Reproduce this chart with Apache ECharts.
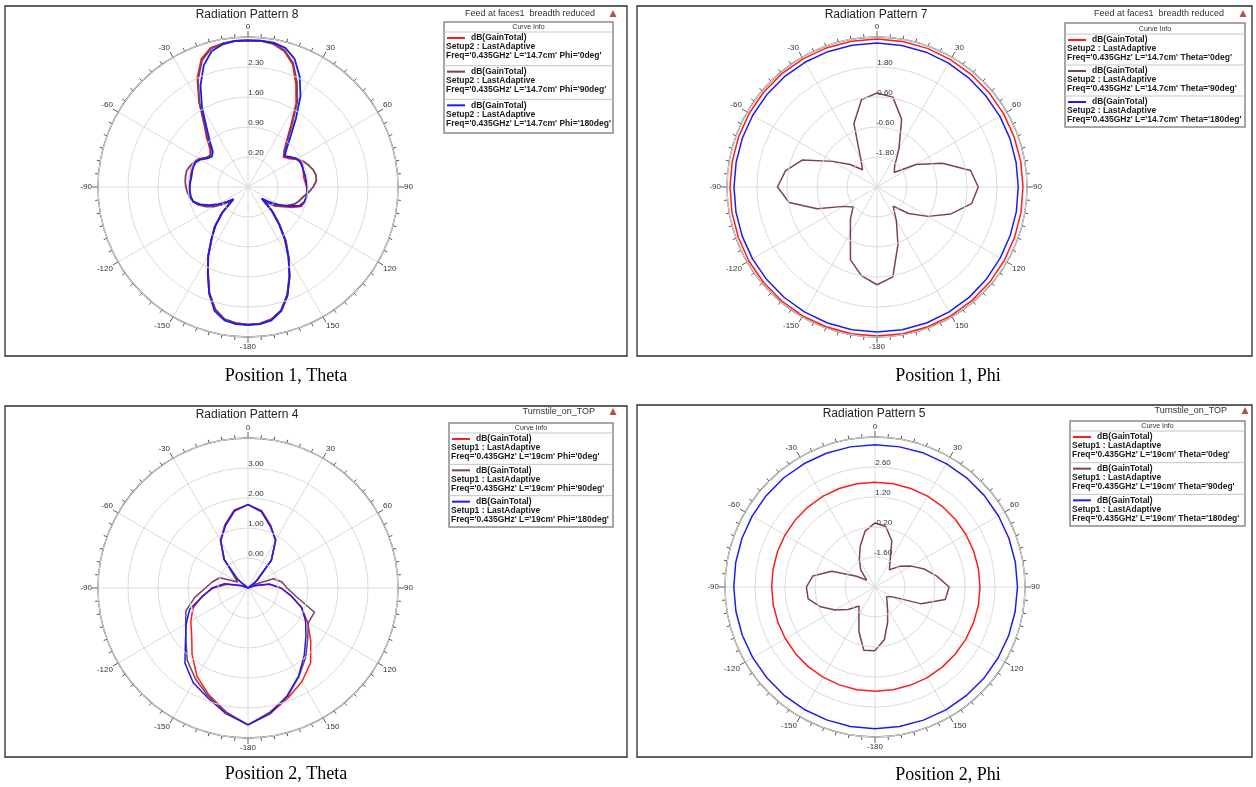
<!DOCTYPE html>
<html>
<head>
<meta charset="utf-8">
<title>Radiation Patterns</title>
<script src="https://cdn.jsdelivr.net/npm/echarts@6/dist/echarts.min.js"></script>
<style>
    html, body { margin: 0; padding: 0; background: #fff; }
    #main { width: 1256px; height: 787px; }
</style>
</head>
<body>
<div id="main"></div>
<script>
// angles (deg), 0 at top, clockwise
let angles5 = [-180, -175, -170, -165, -160, -155, -150, -145, -140, -135, -130, -125, -120, -115, -110, -105, -100, -95, -90, -85, -80, -75, -70, -65, -60, -55, -50, -45, -40, -35, -30, -25, -20, -15, -10, -5,
    0, 5, 10, 15, 20, 25, 30, 35, 40, 45, 50, 55, 60, 65, 70, 75, 80, 85, 90, 95, 100, 105, 110, 115, 120, 125, 130, 135, 140, 145, 150, 155, 160, 165, 170, 175, 180]
let angles10 = [-180, -170, -160, -150, -140, -130, -120, -110, -100, -90, -80, -70, -60, -50, -40, -30, -20, -10,
    0, 10, 20, 30, 40, 50, 60, 70, 80, 90, 100, 110, 120, 130, 140, 150, 160, 170, 180]

// Position 1, Theta (dB)
let p1thPhi0 = [2.71, 2.69, 2.64, 2.45, 2.13, 1.70, 1.36, 0.98, 0.72, 0.37, -0.05, 0.12, 0.38, 0.55, 0.72, 0.82, 0.86, 0.87, 0.87, 0.86, 0.86, 0.88, 0.90, 0.88, 0.82, 0.68, 0.65, 0.75, 1.00, 1.28, 1.78, 2.30, 2.68, 2.86, 2.90, 2.92,
    2.92, 2.92, 2.89, 2.78, 2.55, 2.15, 1.75, 1.25, 0.90, 0.70, 0.58, 0.66, 0.80, 0.88, 0.86, 0.84, 0.82, 0.84, 0.87, 0.88, 0.88, 0.86, 0.82, 0.62, 0.40, 0.20, -0.08, 0.30, 0.65, 1.05, 1.40, 1.80, 2.18, 2.48, 2.63, 2.70, 2.71]
let p1thPhi90 = [2.71, 2.69, 2.63, 2.46, 2.14, 1.72, 1.36, 1.00, 0.70, 0.36, 0.00, 0.20, 0.42, 0.58, 0.72, 0.82, 0.88, 0.92, 0.95, 0.97, 0.98, 0.98, 0.94, 0.88, 0.80, 0.70, 0.64, 0.72, 0.96, 1.26, 1.76, 2.26, 2.64, 2.84, 2.90, 2.92,
    2.92, 2.92, 2.90, 2.80, 2.58, 2.20, 1.80, 1.30, 0.94, 0.70, 0.60, 0.70, 0.80, 0.92, 1.00, 1.07, 1.11, 1.10, 1.02, 0.92, 0.81, 0.74, 0.66, 0.52, 0.40, 0.28, 0.02, 0.30, 0.62, 1.02, 1.40, 1.78, 2.17, 2.48, 2.64, 2.70, 2.71]
let p1thPhi180 = [2.72, 2.71, 2.66, 2.50, 2.15, 1.72, 1.35, 0.98, 0.68, 0.35, -0.06, 0.10, 0.30, 0.50, 0.68, 0.82, 0.85, 0.86, 0.86, 0.85, 0.84, 0.85, 0.86, 0.85, 0.78, 0.66, 0.60, 0.66, 0.88, 1.18, 1.65, 2.12, 2.52, 2.78, 2.88, 2.92,
    2.92, 2.93, 2.92, 2.86, 2.68, 2.35, 1.95, 1.45, 1.05, 0.78, 0.62, 0.72, 0.82, 0.85, 0.85, 0.85, 0.86, 0.87, 0.88, 0.89, 0.88, 0.86, 0.78, 0.55, 0.32, 0.12, -0.08, 0.28, 0.62, 1.00, 1.38, 1.80, 2.20, 2.50, 2.66, 2.71, 2.72]

// Position 1, Phi (dB)
let p1phTh0 = [2.96, 2.96, 2.95, 2.95, 2.94, 2.93, 2.92, 2.90, 2.89, 2.88, 2.88, 2.89, 2.90, 2.91, 2.92, 2.92, 2.92, 2.92,
    2.92, 2.91, 2.90, 2.88, 2.87, 2.86, 2.85, 2.84, 2.84, 2.84, 2.85, 2.86, 2.88, 2.90, 2.92, 2.94, 2.95, 2.96, 2.96]
let p1phTh90 = [0.91, 0.60, 0.10, -0.87, -1.35, -1.75, -1.45, -0.45, 0.57, 0.98, 0.72, 0.17, -0.95, -1.60, -2.10, -1.70, -0.30, 0.55,
    0.76, 0.65, -0.12, -1.25, -1.90, -2.10, -1.20, -0.22, 0.80, 1.05, 0.84, 0.15, -0.65, -1.35, -2.00, -1.45, -0.55, 0.65, 0.91]
let p1phTh180 = [2.80, 2.80, 2.79, 2.78, 2.77, 2.76, 2.75, 2.74, 2.73, 2.72, 2.72, 2.73, 2.74, 2.75, 2.76, 2.76, 2.76, 2.76,
    2.76, 2.75, 2.74, 2.72, 2.70, 2.68, 2.67, 2.66, 2.65, 2.65, 2.66, 2.67, 2.69, 2.72, 2.75, 2.77, 2.79, 2.80, 2.80]

// Position 2, Theta (dB)
let p2thPhi0 = [3.56, 3.20, 2.80, 2.40, 1.90, 1.45, 1.20, 0.95, 0.55, 0.15, -0.30, -0.80, -1.00, -0.55, 0.22, 0.84, 1.25, 1.64,
    1.78, 1.62, 1.22, 0.85, 0.20, -0.60, -1.00, -0.80, -0.30, 0.10, 0.45, 0.90, 1.30, 1.73, 2.25, 2.60, 2.90, 3.25, 3.56]
let p2thPhi90 = [3.56, 3.20, 2.85, 2.50, 2.15, 1.70, 1.40, 1.20, 0.80, 0.42, 0.20, 0.00, -0.60, -0.60, 0.22, 0.83, 1.22, 1.62,
    1.78, 1.60, 1.20, 0.84, 0.22, -0.65, -0.80, -0.10, 0.15, 0.30, 0.63, 1.36, 1.32, 1.60, 2.00, 2.40, 2.85, 3.20, 3.56]
let p2thPhi180 = [3.56, 3.25, 2.90, 2.65, 2.27, 1.72, 1.38, 1.07, 0.52, 0.20, -0.20, -0.75, -1.00, -0.55, 0.25, 0.82, 1.20, 1.60,
    1.78, 1.58, 1.18, 0.84, 0.22, -0.60, -1.00, -0.75, -0.25, 0.10, 0.45, 0.90, 1.22, 1.52, 1.92, 2.38, 2.82, 3.25, 3.56]

// Position 2, Phi (dB)
let p2phTh0 = [1.87, 1.87, 1.86, 1.86, 1.85, 1.84, 1.83, 1.82, 1.82, 1.82, 1.83, 1.84, 1.85, 1.86, 1.87, 1.88, 1.89, 1.89,
    1.89, 1.89, 1.89, 1.90, 1.90, 1.90, 1.90, 1.90, 1.90, 1.90, 1.90, 1.89, 1.89, 1.88, 1.88, 1.88, 1.87, 1.87, 1.87]
let p2phTh90 = [-0.02, 0.00, -0.80, -1.50, -1.84, -1.37, -0.85, -0.30, 0.17, 0.20, -0.05, -0.85, -2.00, -2.50, -1.97, -1.54, -0.98, -0.35,
    -0.01, -0.13, -0.70, -1.60, -1.95, -1.50, -1.05, -0.55, -0.07, 0.46, 0.33, -0.70, -2.10, -2.30, -2.13, -1.83, -1.27, -0.50, -0.04]
let p2phTh180 = [3.61, 3.61, 3.60, 3.60, 3.60, 3.59, 3.59, 3.59, 3.59, 3.59, 3.60, 3.61, 3.62, 3.63, 3.64, 3.64, 3.64, 3.64,
    3.64, 3.64, 3.65, 3.65, 3.65, 3.65, 3.65, 3.65, 3.65, 3.65, 3.64, 3.64, 3.63, 3.63, 3.62, 3.62, 3.61, 3.61, 3.61]

// texts
let titles = ['Radiation Pattern 8', 'Radiation Pattern 7', 'Radiation Pattern 4', 'Radiation Pattern 5']
let captions = ['Position 1, Theta', 'Position 1, Phi', 'Position 2, Theta', 'Position 2, Phi']
let headNotes = ['Feed at faces1  breadth reduced', 'Feed at faces1  breadth reduced', 'Turnstile_on_TOP', 'Turnstile_on_TOP']
let legendNames = [
    ["Freq='0.435GHz' L='14.7cm' Phi='0deg'", "Freq='0.435GHz' L='14.7cm' Phi='90deg'", "Freq='0.435GHz' L='14.7cm' Phi='180deg'"],
    ["Freq='0.435GHz' L='14.7cm' Theta='0deg'", "Freq='0.435GHz' L='14.7cm' Theta='90deg'", "Freq='0.435GHz' L='14.7cm' Theta='180deg'"],
    ["Freq='0.435GHz' L='19cm' Phi='0deg'", "Freq='0.435GHz' L='19cm' Phi='90deg'", "Freq='0.435GHz' L='19cm' Phi='180deg'"],
    ["Freq='0.435GHz' L='19cm' Theta='0deg'", "Freq='0.435GHz' L='19cm' Theta='90deg'", "Freq='0.435GHz' L='19cm' Theta='180deg'"]
]
let setups = ['Setup2 : LastAdaptive', 'Setup2 : LastAdaptive', 'Setup1 : LastAdaptive', 'Setup1 : LastAdaptive']

let colors = ['#ff1c1c', '#7d3f5e', '#1c1cf0']

window.onload = function () {
    let chart = echarts.init(document.getElementById('main'))

    // layout of the four plots
    let panels = [
        { cx: 248, cy: 187, min: -0.5, max: 3.0, step: 0.7, box: [5, 6, 622, 350], cap: [286, 376],
          leg: { x: 444, y: 22, w: 169, h: 111, hh: 10, headX: 595, headY: 14, triX: 613 },
          data: [p1thPhi0, p1thPhi90, p1thPhi180], ang: angles5, lw: 1.8 },
        { cx: 877, cy: 187, min: -3.0, max: 3.0, step: 1.2, box: [637, 6, 615, 350], cap: [948, 376],
          leg: { x: 1065, y: 23, w: 180, h: 104, hh: 11, headX: 1224, headY: 14, triX: 1243 },
          data: [p1phTh0, p1phTh90, p1phTh180], ang: angles10, lw: 1.5 },
        { cx: 248, cy: 588, min: -1.0, max: 4.0, step: 1.0, box: [5, 406, 622, 351], cap: [286, 774],
          leg: { x: 449, y: 423, w: 164, h: 104, hh: 10, headX: 595, headY: 412, triX: 613 },
          data: [p2thPhi0, p2thPhi90, p2thPhi180], ang: angles10, lw: 1.5 },
        { cx: 875, cy: 587, min: -3.0, max: 4.0, step: 1.4, box: [637, 405, 615, 352], cap: [948, 775],
          leg: { x: 1070, y: 421, w: 175, h: 105, hh: 10, headX: 1227, headY: 411, triX: 1245 },
          data: [p2phTh0, p2phTh90, p2phTh180], ang: angles10, lw: 1.5 }
    ]

    // -180..180 -> 0..360 on the angle axis
    function pairs(values, angles) {
        let out = []
        for (let i = 0; i < values.length; i++) {
            let a = angles[i] < 0 ? angles[i] + 360 : angles[i]
            out.push([values[i], a])
        }
        return out
    }

    let polar = [], angleAxis = [], radiusAxis = [], series = [], elements = []

    panels.forEach(function (p, i) {
        polar.push({ center: [p.cx, p.cy], radius: 150 })
        angleAxis.push({
            polarIndex: i, type: 'value', min: 0, max: 360, interval: 30,
            startAngle: 90, clockwise: true,
            axisLine: { lineStyle: { color: '#5a5a5a', width: 1.3 } },
            axisTick: { length: 6, lineStyle: { color: '#5a5a5a' } },
            minorTick: { show: true, splitNumber: 6, length: 3.5, lineStyle: { color: '#5a5a5a' } },
            axisLabel: {
                margin: 6, fontSize: 8, color: '#333', fontFamily: 'Liberation Sans',
                formatter: function (v) {
                    if (v === 360) return ''
                    if (v >= 180) return String(v - 360)
                    return String(v)
                }
            },
            splitLine: { lineStyle: { color: '#dadada', width: 1 } }
        })
        radiusAxis.push({
            polarIndex: i, type: 'value', min: p.min, max: p.max, interval: p.step,
            axisLine: { show: false }, axisTick: { show: false },
            axisLabel: {
                fontSize: 8, color: '#333', fontFamily: 'Liberation Sans',
                margin: -8, align: 'center', verticalAlign: 'bottom',
                formatter: function (v) {
                    if (Math.abs(v - p.min) < 1e-6 || Math.abs(v - p.max) < 1e-6) return ''
                    return v.toFixed(2)
                }
            },
            splitLine: { lineStyle: { color: '#dadada', width: 1 } },
            z: 5
        })
        for (let k = 0; k < 3; k++) {
            series.push({
                type: 'line', name: legendNames[i][k], coordinateSystem: 'polar', polarIndex: i,
                data: pairs(p.data[k], p.ang), symbol: 'none', showSymbol: false,
                lineStyle: { color: colors[k], width: p.lw }, itemStyle: { color: colors[k] },
                silent: true, z: 3
            })
        }

        // frame, title, caption
        elements.push({ type: 'rect', silent: true, shape: { x: p.box[0], y: p.box[1], width: p.box[2], height: p.box[3] },
            style: { fill: 'none', stroke: '#2b2b2b', lineWidth: 1.3 } })
        elements.push({ type: 'text', silent: true, x: p.cx - 1, y: p.box[1] + 9,
            style: { text: titles[i], font: '12px "Liberation Sans", Arial, sans-serif', fill: '#222', align: 'center', verticalAlign: 'middle' } })
        elements.push({ type: 'text', silent: true, x: p.cap[0], y: p.cap[1],
            style: { text: captions[i], font: '18px "Liberation Serif", "Times New Roman", serif', fill: '#000', align: 'center', verticalAlign: 'middle' } })

        // legend box
        let g = p.leg
        elements.push({ type: 'text', silent: true, x: g.headX, y: g.headY,
            style: { text: headNotes[i], font: '9px "Liberation Sans", Arial, sans-serif', fill: '#333', align: 'right', verticalAlign: 'middle' } })
        elements.push({ type: 'polygon', silent: true,
            shape: { points: [[g.triX - 3.5, g.headY + 3], [g.triX + 3.5, g.headY + 3], [g.triX, g.headY - 4]] },
            style: { fill: '#b4514e' } })
        elements.push({ type: 'rect', silent: true, shape: { x: g.x, y: g.y, width: g.w, height: g.h },
            style: { fill: '#fff', stroke: '#8a8a8a', lineWidth: 1.5 }, z: 10 })
        elements.push({ type: 'text', silent: true, x: g.x + g.w / 2, y: g.y + g.hh / 2 + 0.5, z: 11,
            style: { text: 'Curve Info', font: '7px "Liberation Sans", Arial, sans-serif', fill: '#333', align: 'center', verticalAlign: 'middle' } })
        let rowH = (g.h - g.hh) / 3
        for (let k = 0; k < 3; k++) {
            let top = g.y + g.hh + k * rowH
            let bold = 'bold 8.5px "Liberation Sans", Arial, sans-serif'
            elements.push({ type: 'line', silent: true, z: 11, shape: { x1: g.x, y1: top, x2: g.x + g.w, y2: top },
                style: { stroke: '#c4c4c4', lineWidth: 1 } })
            elements.push({ type: 'line', silent: true, z: 11, shape: { x1: g.x + 3, y1: top + 6, x2: g.x + 21, y2: top + 6 },
                style: { stroke: colors[k], lineWidth: 2 } })
            elements.push({ type: 'text', silent: true, z: 11, x: g.x + 27, y: top + 6,
                style: { text: 'dB(GainTotal)', font: bold, fill: '#1a1a1a', align: 'left', verticalAlign: 'middle' } })
            elements.push({ type: 'text', silent: true, z: 11, x: g.x + 2, y: top + 15,
                style: { text: setups[i], font: bold, fill: '#1a1a1a', align: 'left', verticalAlign: 'middle' } })
            elements.push({ type: 'text', silent: true, z: 11, x: g.x + 2, y: top + 24,
                style: { text: legendNames[i][k], font: bold, fill: '#1a1a1a', align: 'left', verticalAlign: 'middle' } })
        }
    })

    let option = {
        backgroundColor: '#fff',
        animation: false,
        polar: polar,
        angleAxis: angleAxis,
        radiusAxis: radiusAxis,
        series: series,
        graphic: { elements: elements }
    }
    chart.setOption(option)
}
</script>
</body>
</html>
